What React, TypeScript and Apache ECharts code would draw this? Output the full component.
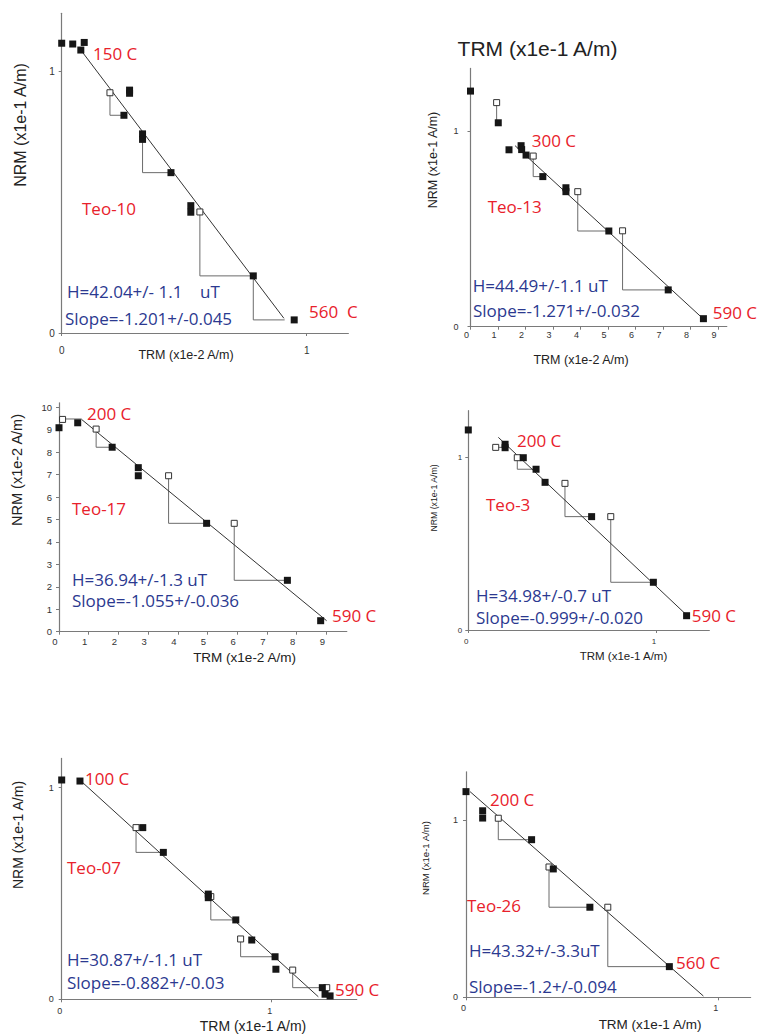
import React, { useEffect, useRef } from "react";
import * as echarts from "echarts";

// ---------------- DATA ----------------
// Teo-10  (x: TRM x1e-2 A/m, y: NRM x1e-1 A/m)
const teo10Filled = [[0, 1.106], [0.045, 1.103], [0.078, 1.08], [0.092, 1.109], [0.254, 0.831], [0.277, 0.927], [0.277, 0.915], [0.33, 0.76], [0.33, 0.739], [0.446, 0.612], [0.527, 0.486], [0.527, 0.461], [0.782, 0.218], [0.949, 0.05]];
const teo10Open = [[0.197, 0.917], [0.564, 0.462]];
const teo10Fit = [[0.078, 1.08], [0.907, 0.056]];
const teo10Checks = [
  [[0.197, 0.917], [0.197, 0.831], [0.254, 0.831]],
  [[0.33, 0.739], [0.33, 0.612], [0.446, 0.612]],
  [[0.564, 0.462], [0.564, 0.218], [0.782, 0.218]],
  [[0.782, 0.218], [0.782, 0.05], [0.91, 0.05]],
];

// Teo-13  (x: TRM x1e-2 A/m, y: NRM x1e-1 A/m)
const teo13Filled = [[0, 1.204], [1.01, 1.042], [1.4, 0.904], [1.84, 0.925], [1.86, 0.905], [2.02, 0.877], [2.63, 0.767], [3.47, 0.71], [3.47, 0.69], [5.03, 0.489], [7.19, 0.188], [8.47, 0.041]];
const teo13Open = [[0.95, 1.145], [2.28, 0.872], [3.9, 0.69], [5.53, 0.49]];
const teo13Fit = [[1.62, 0.925], [8.44, 0.043]];
const teo13Checks = [
  [[0.95, 1.145], [0.95, 1.042], [1.01, 1.042]],
  [[2.28, 0.872], [2.28, 0.767], [2.63, 0.767]],
  [[3.9, 0.69], [3.9, 0.489], [5.03, 0.489]],
  [[5.53, 0.49], [5.53, 0.188], [7.19, 0.188]],
];

// Teo-17  (x: TRM x1e-2 A/m, y: NRM x1e-2 A/m)
const teo17Filled = [[0, 9.09], [0.63, 9.31], [1.79, 8.22], [2.67, 7.31], [2.67, 6.95], [4.97, 4.83], [7.69, 2.29], [8.81, 0.49]];
const teo17Open = [[0.12, 9.46], [1.25, 9.03], [3.69, 6.95], [5.9, 4.83]];
const teo17Fit = [[0.76, 9.46], [9.01, 0.49]];
const teo17Checks = [
  [[0.12, 9.48], [0.76, 9.48]],
  [[1.25, 9.03], [1.25, 8.22], [1.79, 8.22]],
  [[3.69, 6.95], [3.69, 4.83], [4.97, 4.83]],
  [[5.9, 4.83], [5.9, 2.29], [7.69, 2.29]],
];

// Teo-3  (x: TRM x1e-1 A/m, y: NRM x1e-1 A/m)
const teo3Filled = [[0, 1.161], [0.196, 1.078], [0.196, 1.058], [0.293, 1.0], [0.361, 0.933], [0.409, 0.857], [0.657, 0.658], [0.986, 0.277], [1.163, 0.083]];
const teo3Open = [[0.146, 1.06], [0.261, 1.0], [0.515, 0.851], [0.759, 0.658]];
const teo3Fit = [[0.16, 1.118], [1.163, 0.087]];
const teo3Checks = [
  [[0.146, 1.06], [0.196, 1.06]],
  [[0.261, 1.0], [0.261, 0.933], [0.361, 0.933]],
  [[0.515, 0.851], [0.515, 0.658], [0.657, 0.658]],
  [[0.759, 0.658], [0.759, 0.277], [0.986, 0.277]],
];

// Teo-07  (x: TRM x1e-1 A/m, y: NRM x1e-1 A/m)
const teo07Filled = [[0, 1.036], [0.087, 1.031], [0.386, 0.811], [0.484, 0.694], [0.698, 0.497], [0.698, 0.48], [0.829, 0.375], [0.905, 0.28], [1.016, 0.201], [1.02, 0.142], [1.241, 0.055], [1.254, 0.024], [1.278, 0.016]];
const teo07Open = [[0.354, 0.811], [0.71, 0.485], [0.852, 0.285], [1.1, 0.138], [1.262, 0.055]];
const teo07Fit = [[0.095, 1.028], [1.222, 0.012]];
const teo07Checks = [
  [[0.354, 0.811], [0.354, 0.694], [0.484, 0.694]],
  [[0.71, 0.485], [0.71, 0.375], [0.829, 0.375]],
  [[0.852, 0.285], [0.852, 0.201], [1.016, 0.201]],
  [[1.1, 0.138], [1.1, 0.055], [1.241, 0.055]],
];

// Teo-26  (x: TRM x1e-1 A/m, y: NRM x1e-1 A/m)
const teo26Filled = [[0, 1.16], [0.066, 1.052], [0.066, 1.011], [0.26, 0.889], [0.346, 0.724], [0.491, 0.508], [0.806, 0.173]];
const teo26Open = [[0.128, 1.01], [0.329, 0.735], [0.562, 0.508]];
const teo26Fit = [[0.016, 1.16], [0.941, 0.007]];
const teo26Checks = [
  [[0.128, 1.01], [0.128, 0.889], [0.26, 0.889]],
  [[0.329, 0.735], [0.329, 0.508], [0.491, 0.508]],
  [[0.562, 0.508], [0.562, 0.173], [0.806, 0.173]],
];

// Tick labels
const ticks01 = [0, 1];
const ticks0to9 = [0, 1, 2, 3, 4, 5, 6, 7, 8, 9];
const ticks0to10 = [0, 1, 2, 3, 4, 5, 6, 7, 8, 9, 10];

// Texts
const sampleNames = ["Teo-10", "Teo-13", "Teo-17", "Teo-3", "Teo-07", "Teo-26"];
const startTemps = ["150 C", "300 C", "200 C", "200 C", "100 C", "200 C"];
const endTemps = ["560  C", "590 C", "590 C", "590 C", "590 C", "560 C"];
const fieldLabels = ["H=42.04+/- 1.1    uT", "H=44.49+/-1.1 uT", "H=36.94+/-1.3 uT", "H=34.98+/-0.7 uT", "H=30.87+/-1.1 uT", "H=43.32+/-3.3uT"];
const slopeLabels = ["Slope=-1.201+/-0.045", "Slope=-1.271+/-0.032", "Slope=-1.055+/-0.036", "Slope=-0.999+/-0.020", "Slope=-0.882+/-0.03", "Slope=-1.2+/-0.094"];
const xNames = ["TRM (x1e-2 A/m)", "TRM (x1e-2 A/m)", "TRM (x1e-2 A/m)", "TRM (x1e-1 A/m)", "TRM (x1e-1 A/m)", "TRM (x1e-1 A/m)"];
const yNames = ["NRM (x1e-1 A/m)", "NRM (x1e-1 A/m)", "NRM (x1e-2 A/m)", "NRM (x1e-1 A/m)", "NRM (x1e-1 A/m)", "NRM (x1e-1 A/m)"];
const strayTitle = "TRM (x1e-1 A/m)";

const panels = [
  { filled: teo10Filled, open: teo10Open, fit: teo10Fit, checks: teo10Checks, xTicks: ticks01, yTicks: ticks01 },
  { filled: teo13Filled, open: teo13Open, fit: teo13Fit, checks: teo13Checks, xTicks: ticks0to9, yTicks: ticks01 },
  { filled: teo17Filled, open: teo17Open, fit: teo17Fit, checks: teo17Checks, xTicks: ticks0to9, yTicks: ticks0to10 },
  { filled: teo3Filled, open: teo3Open, fit: teo3Fit, checks: teo3Checks, xTicks: ticks01, yTicks: ticks01 },
  { filled: teo07Filled, open: teo07Open, fit: teo07Fit, checks: teo07Checks, xTicks: ticks01, yTicks: ticks01 },
  { filled: teo26Filled, open: teo26Open, fit: teo26Fit, checks: teo26Checks, xTicks: ticks01, yTicks: ticks01 },
];

// ---------------- LAYOUT / STYLE ----------------
// origin (ox, oy) in px, px per unit (ux, uy), axis maxima
const layouts = [
  { ox: 61.7, oy: 333, ux: 245, uy: 262, xmax: 1.17, ymax: 1.22, xm: 12, ym: 7, xs: 0, ls: 10 },
  { ox: 470.5, oy: 326.7, ux: 27.5, uy: 195.7, xmax: 9.32, ymax: 1.32, xm: 4, ym: 12, xs: 8, ls: 9 },
  { ox: 59, oy: 631.7, ux: 29.7, uy: 22.44, xmax: 9.69, ymax: 10.2, xm: 5, ym: 7, xs: 8, ls: 9.5 },
  { ox: 468.3, oy: 630, ux: 187.7, uy: 172.3, xmax: 1.284, ymax: 1.273, xm: 7, ym: 6, xs: 4, ls: 8 },
  { ox: 61.7, oy: 999.3, ux: 210, uy: 211.7, xmax: 1.405, ymax: 1.138, xm: 7, ym: 8, xs: 4, ls: 9 },
  { ox: 466, oy: 997.3, ux: 252.3, uy: 177.3, xmax: 1.128, ymax: 1.272, xm: 6, ym: 8, xs: 5, ls: 9 },
];

// text positions: [x(left), y(center)]
const textPos = [
  { t1: [93, 53], name: [82, 208], h: [67, 291], s: [65, 318], t2: [309, 311], xn: [186, 355, 12.5], yn: [20, 125, 16] },
  { t1: [531.7, 140], name: [487.7, 206.7], h: [472.7, 285], s: [473, 310], t2: [712.7, 312.3], xn: [581, 360, 12.5], yn: [433, 160, 12.5] },
  { t1: [87, 413], name: [72, 508], h: [72, 579], s: [72, 600.5], t2: [332, 615], xn: [244.5, 657, 13.5], yn: [17, 470, 14.5] },
  { t1: [517, 440], name: [486, 504], h: [476, 595], s: [476, 617.7], t2: [691.7, 615], xn: [623.5, 656, 11.5], yn: [434, 498, 8.7] },
  { t1: [85, 778], name: [67, 867], h: [67, 959], s: [67, 982], t2: [335, 989], xn: [253, 1026, 14], yn: [18, 835, 14] },
  { t1: [490, 799], name: [467, 905], h: [469, 950.7], s: [469, 986], t2: [676, 962.7], xn: [650, 1024, 13.5], yn: [425, 858, 9.6] },
];

const RED = "#e8212b";
const BLUE = "#2b3990";
const ANN_FONT = "'Open Sans', 'Noto Sans', sans-serif";
const AX_FONT = "'Liberation Sans', Arial, sans-serif";

function buildOption() {
  const grid: any[] = [];
  const xAxis: any[] = [];
  const yAxis: any[] = [];
  const series: any[] = [];
  const graphic: any[] = [];

  panels.forEach((p, i) => {
    const L = layouts[i];
    grid.push({
      left: L.ox,
      top: L.oy - L.ymax * L.uy,
      width: L.xmax * L.ux,
      height: L.ymax * L.uy,
      containLabel: false,
      outerBoundsMode: "none",
    });
    const axisCommon = {
      type: "value",
      min: 0,
      interval: 1,
      axisLine: { show: true, onZero: false, lineStyle: { color: "#7a7a7a", width: 1.2 } },
      splitLine: { show: false },
    };
    xAxis.push({
      ...axisCommon,
      gridIndex: i,
      max: L.xmax,
      axisTick: { show: true, inside: false, length: 3, customValues: p.xTicks, lineStyle: { color: "#7a7a7a" } },
      axisLabel: {
        customValues: p.xTicks,
        margin: L.xm,
        fontSize: L.ls,
        color: "#333",
        fontFamily: AX_FONT,
        padding: [0, L.xs, 0, 0],
      },
    });
    yAxis.push({
      ...axisCommon,
      gridIndex: i,
      max: L.ymax,
      axisTick: { show: true, inside: false, length: 3, customValues: p.yTicks, lineStyle: { color: "#7a7a7a" } },
      axisLabel: {
        customValues: p.yTicks,
        margin: L.ym,
        fontSize: L.ls,
        color: "#333",
        fontFamily: AX_FONT,
      },
    });

    p.checks.forEach((c, k) => {
      series.push({
        type: "line",
        name: `check-${i}-${k}`,
        xAxisIndex: i,
        yAxisIndex: i,
        data: c,
        symbol: "none",
        lineStyle: { color: "#6b6b6b", width: 1 },
        z: 2,
        silent: true,
      });
    });
    series.push({
      type: "line",
      name: `fit-${i}`,
      xAxisIndex: i,
      yAxisIndex: i,
      data: p.fit,
      symbol: "none",
      lineStyle: { color: "#333", width: 1 },
      z: 3,
      silent: true,
    });
    series.push({
      type: "scatter",
      name: `open-${i}`,
      xAxisIndex: i,
      yAxisIndex: i,
      data: p.open,
      symbol: "rect",
      symbolSize: 6,
      itemStyle: { color: "#fff", borderColor: "#333", borderWidth: 1, opacity: 1 },
      z: 4,
      silent: true,
    });
    series.push({
      type: "scatter",
      name: `filled-${i}`,
      xAxisIndex: i,
      yAxisIndex: i,
      data: p.filled,
      symbol: "rect",
      symbolSize: 7,
      itemStyle: { color: "#161616", opacity: 1 },
      z: 5,
      silent: true,
    });

    const T = textPos[i];
    const ann = (text: string, pos: number[], color: string) => ({
      type: "text",
      x: pos[0],
      y: pos[1],
      silent: true,
      style: {
        text,
        fill: color,
        fontSize: 17,
        lineHeight: 16,
        fontFamily: ANN_FONT,
        textAlign: "left",
        textVerticalAlign: "middle",
      },
    });
    graphic.push(ann(startTemps[i], T.t1, RED));
    graphic.push(ann(sampleNames[i], T.name, RED));
    graphic.push(ann(fieldLabels[i], T.h, BLUE));
    graphic.push(ann(slopeLabels[i], T.s, BLUE));
    graphic.push(ann(endTemps[i], T.t2, RED));
    graphic.push({
      type: "text",
      x: T.xn[0],
      y: T.xn[1],
      silent: true,
      style: { text: xNames[i], fill: "#222", fontSize: T.xn[2], fontFamily: AX_FONT, textAlign: "center", textVerticalAlign: "middle" },
    });
    graphic.push({
      type: "text",
      x: T.yn[0],
      y: T.yn[1],
      rotation: Math.PI / 2,
      silent: true,
      style: { text: yNames[i], fill: "#222", fontSize: T.yn[2], fontFamily: AX_FONT, textAlign: "center", textVerticalAlign: "middle" },
    });
  });

  graphic.push({
    type: "text",
    x: 537.5,
    y: 48,
    silent: true,
    style: { text: strayTitle, fill: "#222", fontSize: 21, fontFamily: AX_FONT, textAlign: "center", textVerticalAlign: "middle" },
  });

  return {
    animation: false,
    backgroundColor: "#ffffff",
    grid,
    xAxis,
    yAxis,
    series,
    graphic,
  };
}

export default function App() {
  const ref = useRef<HTMLDivElement>(null);
  useEffect(() => {
    if (!ref.current) return;
    const chart = echarts.init(ref.current, undefined, { renderer: "svg" });
    chart.setOption(buildOption() as any);
    return () => chart.dispose();
  }, []);
  return <div ref={ref} style={{ position: "absolute", left: 0, top: 0, width: 757, height: 1034 }} />;
}
